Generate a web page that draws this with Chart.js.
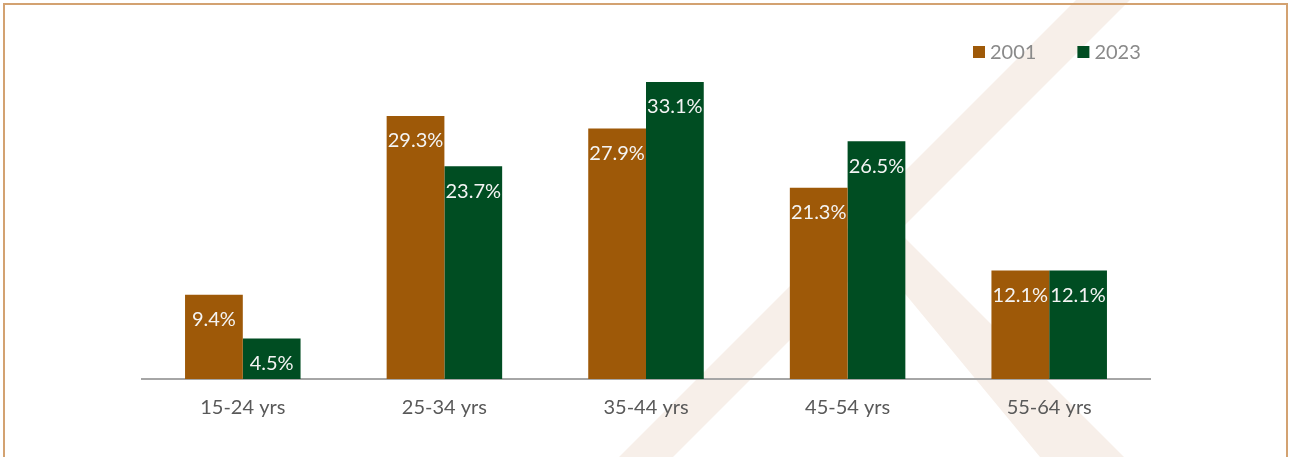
<!DOCTYPE html>
<html>
<head>
<meta charset="utf-8">
<title>Age profile 2001 vs 2023</title>
<script src="https://cdn.jsdelivr.net/npm/chart.js@4/dist/chart.umd.min.js"></script>
<style>
    html, body {
        margin: 0;
        padding: 0;
        background: #ffffff;
        overflow: hidden;
    }
    #wrap {
        position: relative;
        width: 1289px;
        height: 457px;
    }
    #age-chart {
        position: absolute;
        left: 0;
        top: 0;
    }
    #frame {
        position: absolute;
        left: 3px;
        top: 3px;
        width: 1281px;
        height: 470px;
        border: 2px solid #D3A271;
        pointer-events: none;
    }
</style>
</head>
<body>
<div id="wrap">
    <canvas id="age-chart" width="1289" height="457"></canvas>
    <div id="frame"></div>
</div>
<script>
// Age groups and share of workers (%) in each
const ageGroups = ['15-24 yrs', '25-34 yrs', '35-44 yrs', '45-54 yrs', '55-64 yrs'];
const share2001 = [9.4, 29.3, 27.9, 21.3, 12.1];
const share2023 = [4.5, 23.7, 33.1, 26.5, 12.1];
const seriesNames = ['2001', '2023'];
const seriesColors = ['#9E5908', '#004D22'];

Chart.defaults.font.family = 'Lato, "Open Sans", sans-serif';

// Light "X" mark behind the bars
const backdrop = {
    id: 'backdrop',
    beforeDraw(chart) {
        const ctx = chart.ctx;
        ctx.save();
        ctx.fillStyle = '#F7EFE9';
        ctx.beginPath();
        ctx.moveTo(1076, 0);
        ctx.lineTo(1130, 0);
        ctx.lineTo(673, 457);
        ctx.lineTo(619, 457);
        ctx.closePath();
        ctx.fill();
        ctx.beginPath();
        ctx.moveTo(897, 230);
        ctx.lineTo(1124, 457);
        ctx.lineTo(1040, 457);
        ctx.lineTo(873, 255);
        ctx.closePath();
        ctx.fill();
        ctx.restore();
    }
};

// Value labels inside the top of each bar
const barValues = {
    id: 'barValues',
    afterDatasetsDraw(chart) {
        const ctx = chart.ctx;
        ctx.save();
        ctx.font = '20px Lato, "Open Sans", sans-serif';
        ctx.fillStyle = '#F4F4F4';
        ctx.textAlign = 'center';
        ctx.textBaseline = 'middle';
        chart.data.datasets.forEach((ds, i) => {
            chart.getDatasetMeta(i).data.forEach((bar, j) => {
                ctx.fillText(ds.data[j].toFixed(1) + '%', bar.x, bar.y + 25);
            });
        });
        ctx.restore();
    }
};

// Small legend in the top right corner
const cornerLegend = {
    id: 'cornerLegend',
    afterDraw(chart) {
        const ctx = chart.ctx;
        ctx.save();
        ctx.font = '20px Lato, "Open Sans", sans-serif';
        ctx.textBaseline = 'middle';
        let x = 973;
        const y = 52;
        chart.data.datasets.forEach(ds => {
            ctx.fillStyle = ds.backgroundColor;
            ctx.fillRect(x, y - 6, 12, 12);
            ctx.fillStyle = '#8A8A8A';
            ctx.fillText(ds.label, x + 17, y + 1);
            x += 17 + ctx.measureText(ds.label).width + 41;
        });
        ctx.restore();
    }
};

const ctx = document.getElementById('age-chart');
ctx.chart = new Chart(ctx, {
    type: 'bar',
    data: {
        labels: ageGroups,
        datasets: [
            {
                label: seriesNames[0],
                data: share2001,
                backgroundColor: seriesColors[0],
                categoryPercentage: 0.573,
                barPercentage: 1
            },
            {
                label: seriesNames[1],
                data: share2023,
                backgroundColor: seriesColors[1],
                categoryPercentage: 0.573,
                barPercentage: 1
            }
        ]
    },
    options: {
        responsive: false,
        animation: false,
        layout: {
            padding: { left: 142, right: 139, top: 20, bottom: 20 }
        },
        plugins: {
            legend: { display: false },
            tooltip: { enabled: false }
        },
        scales: {
            x: {
                grid: { display: false, drawTicks: false },
                border: { color: '#A6A6A6', width: 2 },
                ticks: {
                    color: '#595959',
                    padding: 17,
                    font: { size: 20 }
                }
            },
            y: {
                display: false,
                min: 0,
                max: 40
            }
        }
    },
    plugins: [backdrop, barValues, cornerLegend]
});
</script>
</body>
</html>
